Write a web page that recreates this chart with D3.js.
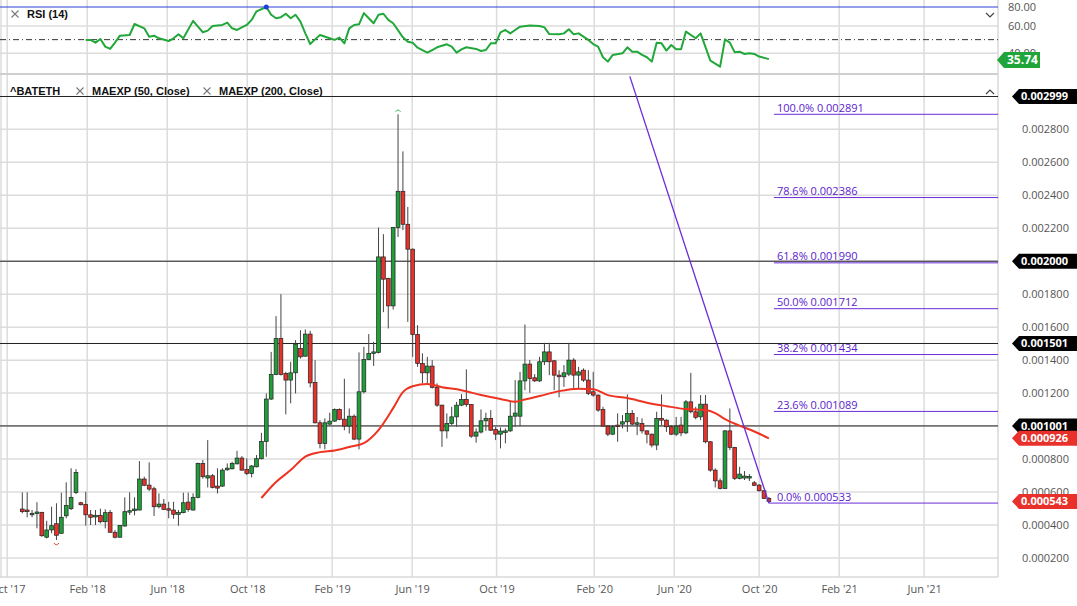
<!DOCTYPE html>
<html>
<head>
<meta charset="utf-8">
<title>BATETH weekly</title>
<script src="https://d3js.org/d3.v7.min.js"></script>
<style>
  body { margin: 0; background: #fff; font-family: "Open Sans", sans-serif; }
  svg { display: block; }
  .axis text { font-family: "Open Sans", sans-serif; font-size: 11px; fill: #555; }
  .legend { font-family: "Liberation Sans", Arial, sans-serif; font-size: 11px; font-weight: bold; fill: #111; }
</style>
</head>
<body>
<div id="chart"></div>
<script>
// weekly candles, bar 0 = late Oct 2017 ... bar 153 = mid Oct 2020
const open = [497e-6,491e-6,467e-6,471e-6,477e-6,326e-6,370e-6,408e-6,350e-6,456e-6,
  499e-6,598e-6,535e-6,525e-6,462e-6,449e-6,459e-6,420e-6,477e-6,356e-6,
  326e-6,394e-6,483e-6,487e-6,491e-6,679e-6,642e-6,620e-6,511e-6,527e-6,
  499e-6,491e-6,465e-6,475e-6,539e-6,491e-6,568e-6,774e-6,685e-6,699e-6,
  636e-6,636e-6,735e-6,741e-6,771e-6,806e-6,737e-6,713e-6,753e-6,802e-6,
  907e-6,1164e-6,1313e-6,1531e-6,1319e-6,1279e-6,1323e-6,1471e-6,1424e-6,1558e-6,
  1265e-6,1020e-6,895e-6,1012e-6,1030e-6,1101e-6,1042e-6,1000e-6,1060e-6,921e-6,
  1208e-6,1404e-6,1441e-6,1447e-6,2026e-6,1895e-6,1729e-6,2204e-6,2424e-6,2224e-6,
  2073e-6,1556e-6,1380e-6,1323e-6,1364e-6,1235e-6,1127e-6,971e-6,1016e-6,1056e-6,
  1127e-6,1162e-6,1131e-6,939e-6,964e-6,1032e-6,1047e-6,980e-6,951e-6,965e-6,
  971e-6,1060e-6,1060e-6,1274e-6,1376e-6,1293e-6,1274e-6,1390e-6,1450e-6,1396e-6,
  1309e-6,1299e-6,1315e-6,1400e-6,1309e-6,1339e-6,1279e-6,1208e-6,1188e-6,1101e-6,
  1000e-6,951e-6,1006e-6,1012e-6,1026e-6,1077e-6,1012e-6,1016e-6,971e-6,951e-6,
  885e-6,1047e-6,1036e-6,996e-6,951e-6,1006e-6,959e-6,1147e-6,1087e-6,1056e-6,
  1133e-6,905e-6,733e-6,668e-6,622e-6,971e-6,871e-6,683e-6,685e-6,685e-6,
  656e-6,642e-6,608e-6,562e-6];
const high = [598e-6,598e-6,491e-6,538e-6,480e-6,426e-6,511e-6,532e-6,596e-6,659e-6,
  744e-6,739e-6,541e-6,602e-6,491e-6,491e-6,499e-6,495e-6,491e-6,370e-6,
  400e-6,568e-6,598e-6,568e-6,788e-6,693e-6,780e-6,632e-6,592e-6,558e-6,
  541e-6,541e-6,491e-6,596e-6,596e-6,592e-6,778e-6,794e-6,915e-6,709e-6,
  744e-6,744e-6,774e-6,784e-6,850e-6,818e-6,804e-6,764e-6,824e-6,959e-6,
  1198e-6,1450e-6,1667e-6,1800e-6,1329e-6,1390e-6,1521e-6,1582e-6,1586e-6,1578e-6,
  1400e-6,1036e-6,1047e-6,1081e-6,1107e-6,1107e-6,1287e-6,1107e-6,1071e-6,1447e-6,
  1481e-6,1558e-6,1511e-6,2204e-6,2164e-6,1900e-6,2208e-6,2891e-6,2666e-6,2329e-6,
  2077e-6,1612e-6,1441e-6,1420e-6,1400e-6,1259e-6,1130e-6,1077e-6,1117e-6,1147e-6,
  1194e-6,1344e-6,1134e-6,986e-6,1101e-6,1081e-6,1097e-6,996e-6,992e-6,986e-6,
  1147e-6,1279e-6,1329e-6,1616e-6,1400e-6,1315e-6,1420e-6,1505e-6,1505e-6,1400e-6,
  1339e-6,1370e-6,1505e-6,1412e-6,1359e-6,1350e-6,1339e-6,1329e-6,1192e-6,1117e-6,
  1006e-6,1006e-6,1077e-6,1067e-6,1192e-6,1097e-6,1056e-6,1047e-6,975e-6,955e-6,
  1087e-6,1192e-6,1041e-6,1006e-6,1056e-6,1056e-6,1158e-6,1323e-6,1117e-6,1188e-6,
  1188e-6,908e-6,744e-6,683e-6,975e-6,1107e-6,874e-6,753e-6,727e-6,709e-6,
  667e-6,648e-6,612e-6,570e-6];
const low = [471e-6,447e-6,447e-6,380e-6,329e-6,319e-6,350e-6,309e-6,346e-6,441e-6,
  491e-6,588e-6,519e-6,396e-6,400e-6,400e-6,410e-6,380e-6,354e-6,319e-6,
  324e-6,390e-6,461e-6,459e-6,489e-6,636e-6,606e-6,455e-6,501e-6,491e-6,
  441e-6,438e-6,396e-6,471e-6,481e-6,487e-6,562e-6,681e-6,628e-6,622e-6,
  592e-6,632e-6,729e-6,737e-6,768e-6,729e-6,703e-6,689e-6,750e-6,798e-6,
  814e-6,1158e-6,1309e-6,1307e-6,1071e-6,1138e-6,1198e-6,1410e-6,1420e-6,1235e-6,
  1016e-6,865e-6,859e-6,1006e-6,1026e-6,1036e-6,975e-6,955e-6,915e-6,859e-6,
  1198e-6,1400e-6,1365e-6,1441e-6,1691e-6,1592e-6,1707e-6,2147e-6,2188e-6,1632e-6,
  1420e-6,1359e-6,1259e-6,1259e-6,1228e-6,1117e-6,874e-6,925e-6,1006e-6,996e-6,
  1121e-6,1117e-6,929e-6,899e-6,955e-6,971e-6,971e-6,915e-6,865e-6,895e-6,
  965e-6,996e-6,1000e-6,1218e-6,1202e-6,1268e-6,1268e-6,1370e-6,1309e-6,1218e-6,
  1174e-6,1238e-6,1303e-6,1230e-6,1222e-6,1268e-6,1188e-6,1178e-6,1087e-6,996e-6,
  939e-6,945e-6,905e-6,986e-6,965e-6,1006e-6,945e-6,955e-6,895e-6,871e-6,
  854e-6,1006e-6,965e-6,945e-6,939e-6,939e-6,951e-6,1077e-6,1041e-6,1036e-6,
  895e-6,723e-6,628e-6,616e-6,618e-6,854e-6,673e-6,677e-6,673e-6,667e-6,
  636e-6,603e-6,558e-6,533e-6];
const close = [481e-6,481e-6,471e-6,479e-6,335e-6,370e-6,396e-6,338e-6,447e-6,519e-6,
  568e-6,719e-6,523e-6,462e-6,447e-6,459e-6,420e-6,475e-6,356e-6,326e-6,
  398e-6,481e-6,487e-6,497e-6,679e-6,641e-6,618e-6,511e-6,527e-6,495e-6,
  491e-6,465e-6,477e-6,535e-6,495e-6,568e-6,774e-6,693e-6,699e-6,628e-6,
  624e-6,733e-6,745e-6,774e-6,806e-6,733e-6,713e-6,758e-6,802e-6,907e-6,
  1164e-6,1313e-6,1531e-6,1313e-6,1279e-6,1323e-6,1497e-6,1420e-6,1558e-6,1262e-6,
  1020e-6,895e-6,1020e-6,1030e-6,1101e-6,1041e-6,1000e-6,1060e-6,921e-6,1208e-6,
  1404e-6,1441e-6,1450e-6,2026e-6,1891e-6,1729e-6,2204e-6,2424e-6,2224e-6,2073e-6,
  1556e-6,1380e-6,1323e-6,1364e-6,1235e-6,1127e-6,971e-6,1016e-6,1056e-6,1127e-6,
  1162e-6,1131e-6,939e-6,964e-6,1032e-6,1047e-6,975e-6,951e-6,970e-6,971e-6,
  1060e-6,1079e-6,1274e-6,1376e-6,1289e-6,1274e-6,1390e-6,1450e-6,1390e-6,1309e-6,
  1299e-6,1323e-6,1400e-6,1309e-6,1329e-6,1279e-6,1198e-6,1188e-6,1097e-6,1000e-6,
  951e-6,996e-6,1000e-6,1026e-6,1077e-6,1012e-6,1020e-6,971e-6,951e-6,885e-6,
  1047e-6,1036e-6,996e-6,951e-6,1000e-6,959e-6,1147e-6,1087e-6,1053e-6,1133e-6,
  905e-6,733e-6,668e-6,622e-6,971e-6,871e-6,683e-6,709e-6,697e-6,694e-6,
  641e-6,608e-6,562e-6,543e-6];

// MAEXP(50) read at a subset of bars
const emaBar = [49,52,55,58,61,64,67,70,73,76,78,80,83,86,90,94,98,101,103,106,110,114,117,120,124,128,132,136,140,142,144,147,150,153];
const emaVal = [564e-6,661e-6,733e-6,815e-6,842e-6,852e-6,873e-6,897e-6,976e-6,1109e-6,1206e-6,1242e-6,1255e-6,1236e-6,1218e-6,1188e-6,1164e-6,1148e-6,1161e-6,1182e-6,1212e-6,1227e-6,1224e-6,1188e-6,1170e-6,1142e-6,1121e-6,1103e-6,1097e-6,1079e-6,1042e-6,1003e-6,967e-6,926e-6];

// RSI(14)
const rsiBar = [13,14,15,16,17,18,19,20,22,23,25,26,27,28,30,31,32,33,35,36,37,38,39,41,42,43,44,46,47,48,50,51,52,53,54,55,56,57,58,59,60,61,63,64,65,66,67,68,69,70,71,72,73,74,75,76,78,79,80,81,83,84,85,87,88,89,90,91,93,94,95,96,97,98,99,100,101,102,104,106,107,108,110,111,112,113,114,116,117,118,119,120,121,123,124,125,126,127,128,129,130,131,132,133,134,135,136,138,139,141,143,144,145,146,147,148,149,150,151,153];
const rsiVal = [49.8,49.8,47.8,50.5,44.9,43.2,47.8,52.9,53.4,62.1,58.3,52.2,52.9,51.0,49.0,51.0,53.9,51.0,65.4,59.5,55.4,56.6,60.0,61.1,63.6,58.3,57.1,61.1,66.4,75.4,80.0,71.8,68.2,69.3,72.9,68.2,71.8,64.6,54.6,46.8,50.2,53.4,51.0,49.8,51.5,47.3,58.3,61.1,61.8,73.6,68.2,62.9,71.8,72.9,66.4,62.9,51.7,48.5,47.8,44.1,40.5,42.4,44.4,46.6,44.9,40.5,42.9,44.4,43.2,41.7,42.4,47.3,47.3,55.4,57.1,54.6,57.1,59.5,60.5,60.0,59.0,54.1,53.9,54.6,57.6,53.9,54.6,49.8,46.8,44.9,37.1,33.9,38.8,40.0,44.4,41.2,41.2,38.8,37.1,33.9,47.8,47.3,42.0,46.1,42.9,42.9,55.9,51.0,54.6,34.6,30.2,50.2,47.8,40.7,41.2,39.5,40.0,39.5,37.6,35.74];

// time axis (positions in bar units)
const tickBars = [-3.1, 13.3, 29.7, 46.1, 63.5, 79.9, 97.2, 117.2, 133.6, 151.0, 167.4, 184.8];
const tickLabels = ["Oct '17","Feb '18","Jun '18","Oct '18","Feb '19","Jun '19","Oct '19","Feb '20","Jun '20","Oct '20","Feb '21","Jun '21"];
const priceTicks = [0.0002,0.0004,0.0006,0.0008,0.0010,0.0012,0.0014,0.0016,0.0018,0.0020,0.0022,0.0024,0.0026,0.0028];
const rsiTicks = [80, 60, 40];

// drawn levels / tools
const levelLines = [0.002999, 0.002000, 0.001501, 0.001001];
const fibPct = ["100.0%","78.6%","61.8%","50.0%","38.2%","23.6%","0.0%"];
const fibVal = [0.002891, 0.002386, 0.001990, 0.001712, 0.001434, 0.001089, 0.000533];
const trendBar = [124.5, 153];
const trendVal = [0.003121, 0.000533];

const width = 1077, height = 606;
const plotRight = 998, rsiBottom = 74, priceTop = 76, priceBottom = 577;
const green = "#1f9e3a", red = "#e8312a", purple = "#6a2bd9";

const svg = d3.select("#chart").append("svg")
  .attr("width", width).attr("height", height);

const x = d3.scaleLinear().domain([0, open.length - 1]).range([22.3, 768.9]);
const y = d3.scaleLinear().domain([0.0002, 0.0028]).range([558, 129.3]);
const yRsi = d3.scaleLinear().domain([40, 60, 80]).range([53.3, 26, 7]);
const fmt = d3.format(".6f");

svg.append("defs").append("clipPath").attr("id", "priceClip")
  .append("rect").attr("x", 0).attr("y", priceTop).attr("width", plotRight).attr("height", priceBottom - priceTop);

// grid
const grid = svg.append("g");
grid.selectAll(".vg").data(tickBars).join("line")
  .attr("x1", d => x(d)).attr("x2", d => x(d))
  .attr("y1", 0).attr("y2", priceBottom)
  .attr("stroke", "#dcdcdc").attr("stroke-width", 1.5);
grid.append("line").attr("x1", 1).attr("x2", 1).attr("y1", 0).attr("y2", priceBottom)
  .attr("stroke", "#dcdcdc").attr("stroke-width", 1.5);
grid.selectAll(".hg").data(priceTicks).join("line")
  .attr("x1", 0).attr("x2", plotRight)
  .attr("y1", d => y(d)).attr("y2", d => y(d))
  .attr("stroke", "#dcdcdc").attr("stroke-width", 1.5);
grid.selectAll(".rg").data([60, 40]).join("line")
  .attr("x1", 0).attr("x2", plotRight)
  .attr("y1", d => yRsi(d)).attr("y2", d => yRsi(d))
  .attr("stroke", "#dcdcdc").attr("stroke-width", 1.5);
grid.append("line").attr("x1", 0).attr("x2", plotRight).attr("y1", rsiBottom).attr("y2", rsiBottom)
  .attr("stroke", "#cfcfcf").attr("stroke-width", 2);
grid.append("line").attr("x1", 0).attr("x2", plotRight).attr("y1", priceBottom).attr("y2", priceBottom)
  .attr("stroke", "#d8d8d8").attr("stroke-width", 1.5);
grid.append("line").attr("x1", plotRight).attr("x2", plotRight).attr("y1", 0).attr("y2", priceBottom)
  .attr("stroke", "#d8d8d8").attr("stroke-width", 1.5);

// RSI panel
svg.append("line").attr("x1", 0).attr("x2", plotRight)
  .attr("y1", yRsi(80)).attr("y2", yRsi(80))
  .attr("stroke", "#2a3fd4").attr("stroke-width", 1);
svg.append("line").attr("x1", 0).attr("x2", plotRight)
  .attr("y1", yRsi(50)).attr("y2", yRsi(50))
  .attr("stroke", "#333").attr("stroke-width", 1).attr("stroke-dasharray", "6,3,1,3");
svg.append("path")
  .datum(rsiBar.map((b, i) => [b, rsiVal[i]]))
  .attr("fill", "none").attr("stroke", "#22a83a").attr("stroke-width", 2)
  .attr("stroke-linejoin", "round")
  .attr("d", d3.line().x(d => x(d[0])).y(d => yRsi(d[1])));
const rsiMax = d3.maxIndex(rsiVal);
svg.append("circle").attr("cx", x(rsiBar[rsiMax])).attr("cy", yRsi(rsiVal[rsiMax]))
  .attr("r", 2.5).attr("fill", "#1f3fd8");

// price panel
const price = svg.append("g").attr("clip-path", "url(#priceClip)");
price.selectAll(".lvl").data(levelLines).join("line")
  .attr("x1", 0).attr("x2", 1012)
  .attr("y1", d => y(d)).attr("y2", d => y(d))
  .attr("stroke", "#222").attr("stroke-width", 1);

const bars = d3.range(open.length);
const bw = 3.8;
const candles = price.append("g");
candles.selectAll(".wick").data(bars).join("line")
  .attr("x1", i => x(i)).attr("x2", i => x(i))
  .attr("y1", i => y(high[i])).attr("y2", i => y(low[i]))
  .attr("stroke", "#444").attr("stroke-width", 1);
candles.selectAll(".body").data(bars).join("rect")
  .attr("x", i => x(i) - bw / 2)
  .attr("y", i => y(Math.max(open[i], close[i])))
  .attr("width", bw)
  .attr("height", i => Math.max(1.5, Math.abs(y(open[i]) - y(close[i]))))
  .attr("fill", i => close[i] >= open[i] ? green : red)
  .attr("stroke", "#222").attr("stroke-width", 0.7);

// high / low markers
const hi = d3.maxIndex(high), lo = d3.minIndex(low);
price.append("path")
  .attr("transform", `translate(${x(hi)},${y(high[hi]) - 4})`)
  .attr("d", "M-2.5,1.5 Q0,-2 2.5,1.5").attr("fill", "none").attr("stroke", "#2cbf4a").attr("stroke-width", 1);
price.append("path")
  .attr("transform", `translate(${x(lo)},${y(low[lo]) + 4})`)
  .attr("d", "M-2.5,-1 Q0,2.5 2.5,-1").attr("fill", "none").attr("stroke", red).attr("stroke-width", 1);

// MAEXP 50
price.append("path")
  .datum(emaBar.map((b, i) => [b, emaVal[i]]))
  .attr("fill", "none").attr("stroke", "#ee3322").attr("stroke-width", 2)
  .attr("d", d3.line().curve(d3.curveMonotoneX).x(d => x(d[0])).y(d => y(d[1])));

// fib retracement
const last = open.length - 1;
const fib = price.append("g");
fib.selectAll("line").data(fibVal).join("line")
  .attr("x1", (d, i) => i === fibVal.length - 1 ? x(last) : x(last) + 5).attr("x2", plotRight)
  .attr("y1", d => y(d)).attr("y2", d => y(d))
  .attr("stroke", purple).attr("stroke-width", 1);
fib.selectAll("text").data(fibVal).join("text")
  .attr("x", x(last) + 8).attr("y", d => y(d) - 2.5)
  .attr("font-family", "Open Sans, sans-serif").attr("font-size", 11)
  .attr("fill", "#5a22cc")
  .text((d, i) => fibPct[i] + " " + fmt(d));

// trend line
price.append("line")
  .attr("x1", x(trendBar[0])).attr("y1", y(trendVal[0]))
  .attr("x2", x(trendBar[1])).attr("y2", y(trendVal[1]))
  .attr("stroke", purple).attr("stroke-width", 1.3);

// axes
const xAxis = svg.append("g").attr("class", "axis")
  .attr("transform", `translate(0,${priceBottom})`)
  .call(d3.axisBottom(x).tickValues(tickBars).tickFormat((d, i) => tickLabels[i]).tickSize(0).tickPadding(8));
xAxis.select(".domain").remove();

const yAxis = svg.append("g").attr("class", "axis")
  .attr("transform", `translate(${plotRight},0)`)
  .call(d3.axisRight(y).tickValues(priceTicks).tickFormat(fmt).tickSize(0).tickPadding(24));
yAxis.select(".domain").remove();

const rAxis = svg.append("g").attr("class", "axis")
  .attr("transform", `translate(${plotRight},0)`)
  .call(d3.axisRight(yRsi).tickValues(rsiTicks).tickFormat(d3.format(".2f")).tickSize(0).tickPadding(10));
rAxis.select(".domain").remove();

// value tags
function tag(yc, label, fill, x0, x1, h, fs, tx) {
  const g = svg.append("g");
  g.append("path")
    .attr("d", `M${x0},${yc} L${x0 + 7},${yc - h / 2} L${x1},${yc - h / 2} L${x1},${yc + h / 2} L${x0 + 7},${yc + h / 2} Z`)
    .attr("fill", fill);
  g.append("text").attr("x", tx).attr("y", yc).attr("dy", "0.35em")
    .attr("font-family", "Open Sans, sans-serif").attr("font-weight", "bold")
    .attr("font-size", fs).attr("fill", "#fff").text(label);
}
levelLines.forEach(v => tag(y(v), fmt(v), "#000", 1012, 1077, 15, 11, 1021));
tag(y(emaVal[emaVal.length - 1]), fmt(emaVal[emaVal.length - 1]), red, 1012, 1077, 15, 11, 1021);
tag(y(close[last]), fmt(close[last]), red, 1012, 1077, 15, 11, 1021);
tag(yRsi(rsiVal[rsiVal.length - 1]) + 1, d3.format(".2f")(rsiVal[rsiVal.length - 1]), "#1fa53a", 997, 1040, 16, 12, 1007);

// legends
function cross(cx, cy) {
  svg.append("path").attr("d", `M${cx - 3.5},${cy - 3.5} L${cx + 3.5},${cy + 3.5} M${cx + 3.5},${cy - 3.5} L${cx - 3.5},${cy + 3.5}`)
    .attr("stroke", "#777").attr("stroke-width", 1.1);
}
cross(15, 14);
svg.append("text").attr("class", "legend").attr("x", 27).attr("y", 18).text("RSI (14)");
svg.append("text").attr("class", "legend").attr("x", 10).attr("y", 95).text("^BATETH");
cross(80, 91);
svg.append("text").attr("class", "legend").attr("x", 92).attr("y", 95).text("MAEXP (50, Close)");
cross(207, 91);
svg.append("text").attr("class", "legend").attr("x", 219).attr("y", 95).text("MAEXP (200, Close)");

// panel chevrons
svg.append("path").attr("d", "M986,13 L990,17 L994,13").attr("fill", "none").attr("stroke", "#444").attr("stroke-width", 1.2);
svg.append("path").attr("d", "M986,94 L990,90 L994,94").attr("fill", "none").attr("stroke", "#444").attr("stroke-width", 1.2);
</script>
</body>
</html>
